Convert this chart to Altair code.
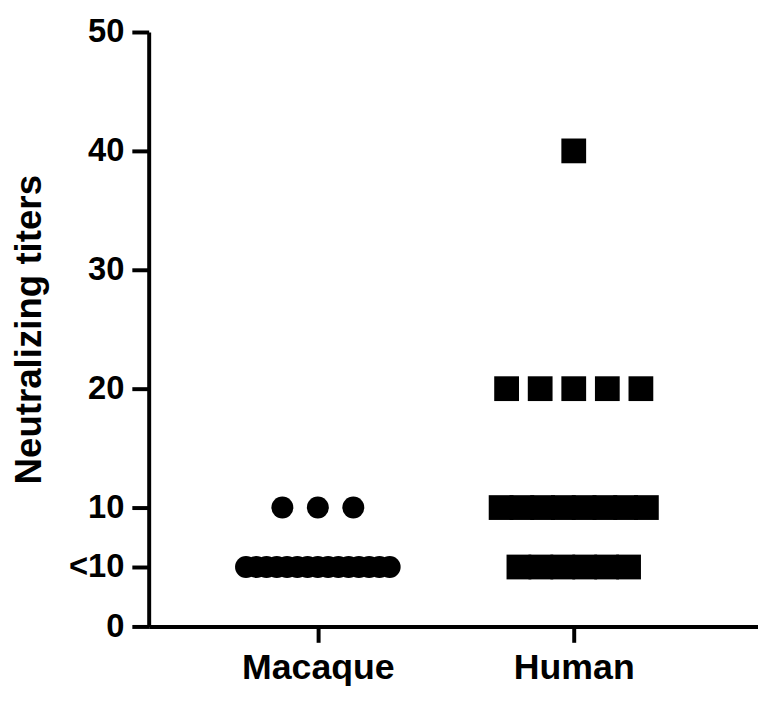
import altair as alt
import pandas as pd

# Data (value 5 stands for the "<10" row)
groups = ["Macaque", "Human"]
macaque_values = [5, 10]
macaque_counts = [15, 3]
human_values = [5, 10, 20, 40]
human_counts = [6, 8, 5, 1]
y_ticks = [0, 5, 10, 20, 30, 40, 50]

# horizontal spread between neighbouring points in a row (x units; 1 unit = group spacing)
spread = {("Macaque", 5): 0.0401, ("Macaque", 10): 0.1386,
          ("Human", 5): 0.0857, ("Human", 10): 0.0811, ("Human", 20): 0.1312, ("Human", 40): 0.0}

rows = []
for gi, (g, vals, cnts) in enumerate([("Macaque", macaque_values, macaque_counts),
                                       ("Human", human_values, human_counts)]):
    for v, n in zip(vals, cnts):
        s = spread[(g, v)]
        for i in range(n):
            rows.append({"group": g, "value": v, "xpos": gi + 1 + (i - (n - 1) / 2) * s})
df = pd.DataFrame(rows)

FONT = "Liberation Sans"

chart = alt.Chart(df).mark_point(filled=True, opacity=1, strokeWidth=0).encode(
    x=alt.X("xpos:Q",
            scale=alt.Scale(domain=[0.339, 2.720], nice=False, zero=False),
            axis=alt.Axis(values=[1, 2], title=None,
                          labelExpr="datum.value == 1 ? 'Macaque' : 'Human'",
                          labelFontSize=36, labelFont=FONT, labelFontWeight="bold",
                          labelColor="black", labelPadding=9,
                          tickSize=16, tickWidth=4, tickColor="black",
                          domainWidth=4, domainColor="black", grid=False)),
    y=alt.Y("value:Q",
            scale=alt.Scale(domain=[0, 50], nice=False),
            axis=alt.Axis(values=y_ticks, title="Neutralizing titers",
                          labelExpr="datum.value == 5 ? '<10' : datum.label",
                          labelFontSize=33, labelFont=FONT, labelFontWeight="bold",
                          labelColor="black", labelPadding=8,
                          titleFontSize=37, titleFont=FONT, titleFontWeight="bold",
                          titleColor="black", titlePadding=20,
                          tickSize=17, tickWidth=4, tickColor="black",
                          domainWidth=4, domainColor="black", grid=False)),
    shape=alt.Shape("group:N", scale=alt.Scale(domain=groups, range=["circle", "square"]), legend=None),
    size=alt.Size("group:N", scale=alt.Scale(domain=groups, range=[491, 625]), legend=None),
    color=alt.value("black"),
).properties(
    width=615, height=600,
    autosize=alt.AutoSizeParams(type="none"),
    padding={"left": 142, "top": 21, "right": 0, "bottom": 70},
).configure_view(stroke=None)

chart.save("out.html", embed_options={"renderer": "svg", "actions": False})
